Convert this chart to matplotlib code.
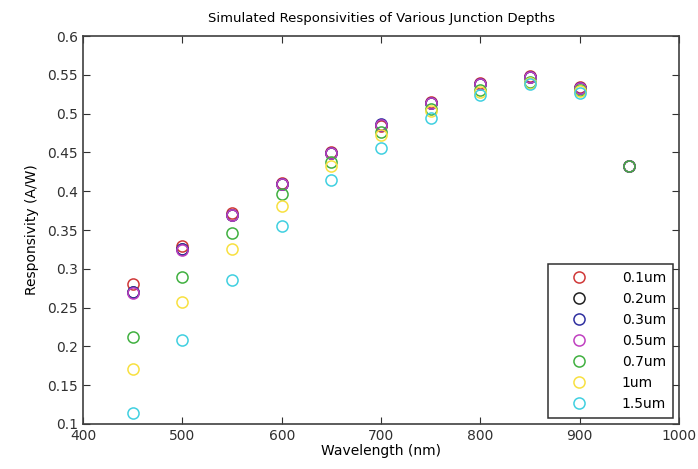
import numpy as np
import matplotlib
matplotlib.use('Agg')
import matplotlib.pyplot as plt

# Wavelength sweep (nm)
wavelength = [450, 500, 550, 600, 650, 700, 750, 800, 850, 900, 950]
nan = np.nan

# Responsivity (A/W) per junction depth
r_01 = [0.281, 0.330, 0.372, 0.411, 0.451, 0.484, 0.515, 0.539, 0.548, 0.534, 0.433]
r_02 = [0.270, 0.325, 0.370, 0.410, 0.449, 0.486, 0.514, 0.538, 0.547, 0.533, 0.433]
r_03 = [0.270, 0.325, 0.370, 0.410, 0.449, 0.487, 0.514, 0.538, 0.547, 0.533, 0.433]
r_05 = [0.269, 0.324, 0.369, 0.410, 0.449, 0.486, 0.514, 0.538, 0.547, 0.533, 0.433]
r_07 = [0.212, 0.290, 0.346, 0.397, 0.438, 0.477, 0.506, 0.530, 0.541, 0.531, 0.433]
r_1 = [0.171, 0.257, 0.325, 0.381, 0.432, 0.473, 0.503, 0.528, 0.540, 0.529, nan]
r_15 = [0.114, 0.208, 0.286, 0.355, 0.414, 0.456, 0.494, 0.524, 0.538, 0.527, nan]

labels = ['0.1um', '0.2um', '0.3um', '0.5um', '0.7um', '1um', '1.5um']
colors = ['#d03838', '#202020', '#3030a0', '#c040c0', '#40b040', '#f8e040', '#40d0e0']
series = [r_01, r_02, r_03, r_05, r_07, r_1, r_15]

fig = plt.figure(figsize=(6.98, 4.69), dpi=100)
ax = fig.add_axes([0.119, 0.096, 0.854, 0.827])

for y, lab, c in zip(series, labels, colors):
    ax.plot(wavelength, y, 'o', mfc='none', mec=c, mew=1.1, ms=8, label=lab)

ax.set_xlim(400, 1000)
ax.set_ylim(0.1, 0.6)
ax.set_xticks(np.arange(400, 1001, 100))
ax.set_yticks(np.arange(0.1, 0.601, 0.05))
ax.set_yticklabels(['0.1', '0.15', '0.2', '0.25', '0.3', '0.35', '0.4', '0.45', '0.5', '0.55', '0.6'])
ax.tick_params(direction='in', top=True, right=True, labelsize=10, length=5,
               colors='#303030')
for s in ax.spines.values():
    s.set_linewidth(1.2)
    s.set_color('#404040')

ax.set_xlabel('Wavelength (nm)', fontsize=10, labelpad=1)
ax.set_ylabel('Responsivity (A/W)', fontsize=10, labelpad=6)
ax.set_title('Simulated Responsivities of Various Junction Depths', fontsize=9.5, pad=10)

leg = ax.legend(loc='lower right', fontsize=10, fancybox=False, edgecolor='#303030',
                borderaxespad=0.45, borderpad=0.5, handlelength=3.4, handletextpad=1.4,
                labelspacing=0.5, framealpha=1)
leg.get_frame().set_linewidth(1.1)

fig.savefig('out.png', dpi=100)
plt.close(fig)
